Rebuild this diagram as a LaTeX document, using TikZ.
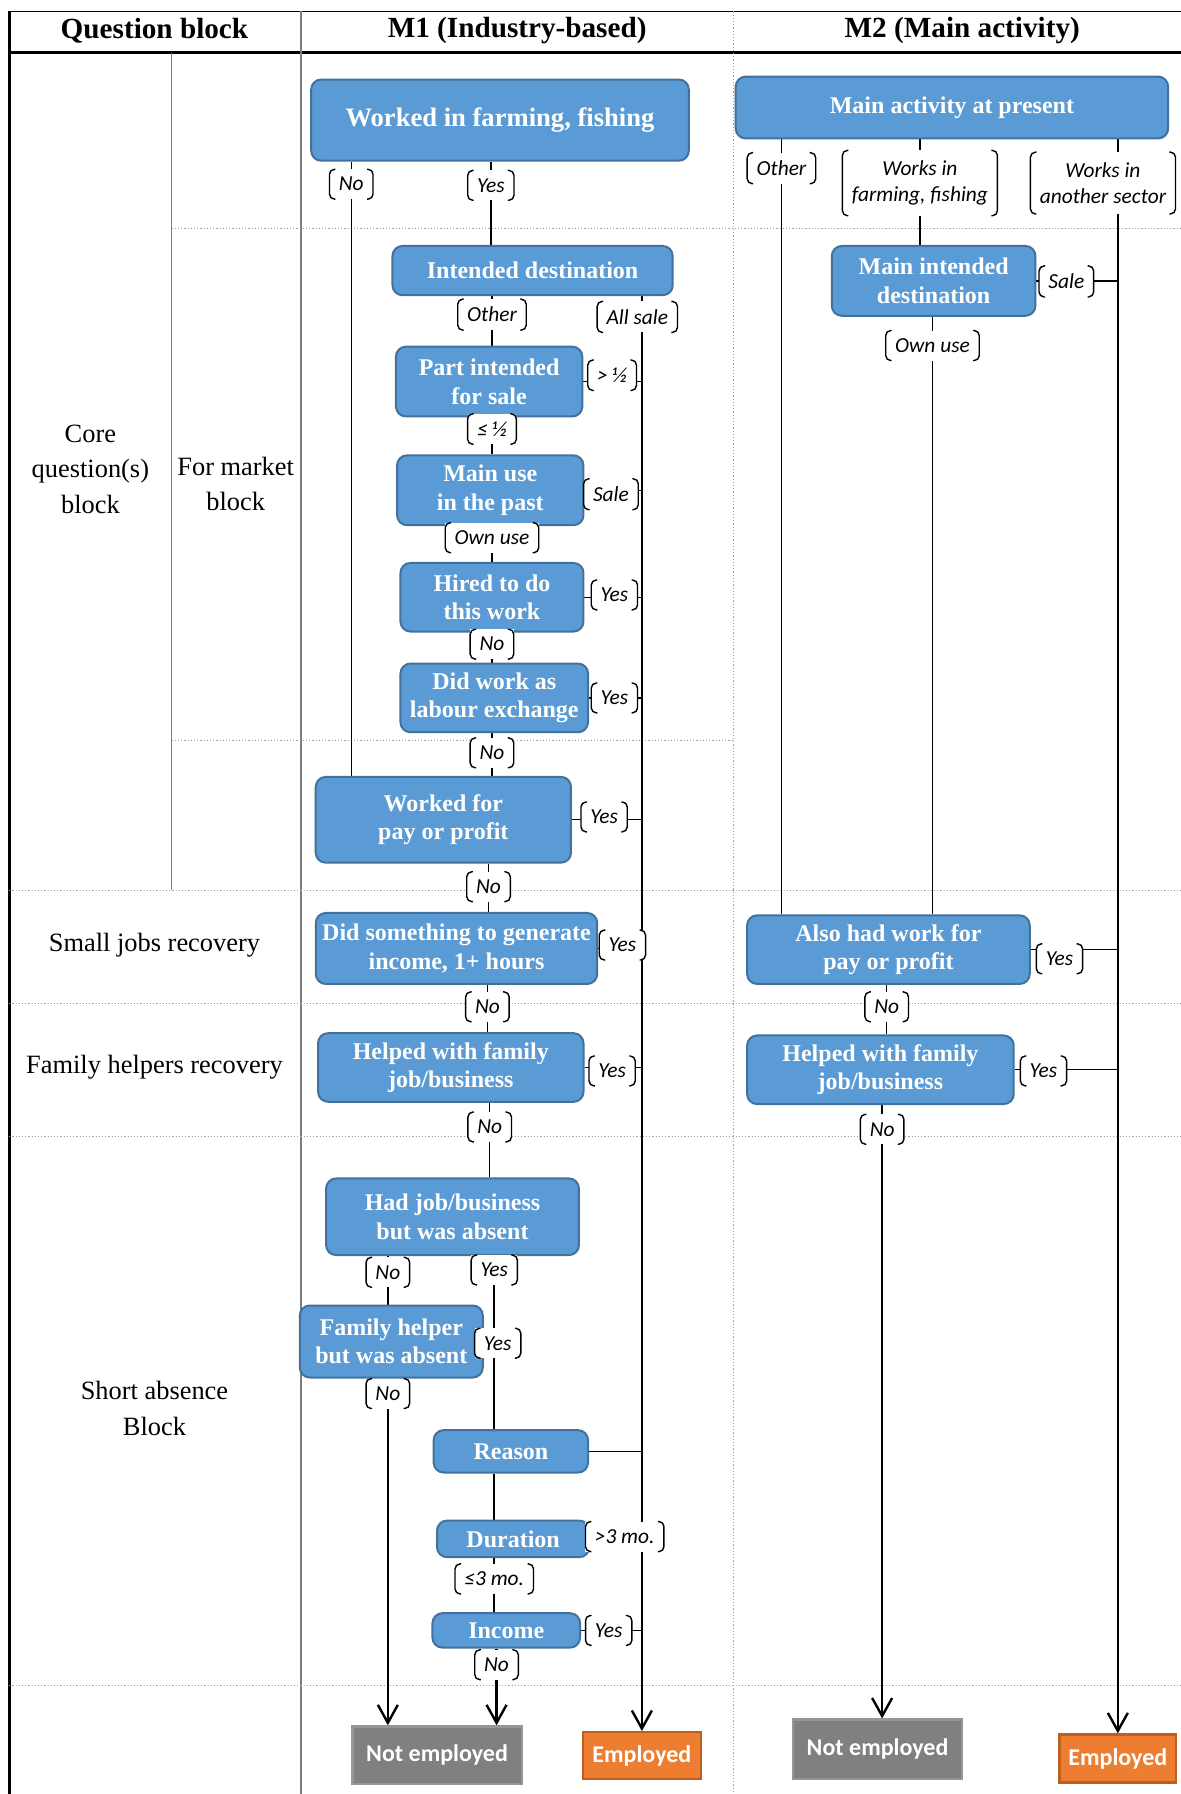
\documentclass[tikz,border=0pt]{standalone}
\usepackage{fontspec}
\setmainfont{Liberation Serif}
\newfontfamily\calfont{Carlito}
\usetikzlibrary{arrows.meta,backgrounds,calc}

\definecolor{boxblue}{RGB}{91,155,213}
\definecolor{boxline}{RGB}{65,113,156}
\definecolor{negray}{RGB}{128,128,128}
\definecolor{negrayline}{RGB}{150,150,150}
\definecolor{emorange}{RGB}{237,125,49}
\definecolor{emorangeline}{RGB}{190,95,30}
\definecolor{gridgray}{RGB}{125,125,125}
\definecolor{dotgray}{RGB}{160,160,160}

\newcommand{\boxfont}{\bfseries\fontsize{12}{14.3}\selectfont}
\newcommand{\bigboxfont}{\bfseries\fontsize{13.3}{16}\selectfont}
\newcommand{\lblfont}{\calfont\itshape\fontsize{10.7}{13}\selectfont}
\newcommand{\outfont}{\calfont\bfseries\fontsize{12}{14}\selectfont}
\newcommand{\headfont}{\bfseries\fontsize{14.6}{17}\selectfont}
\newcommand{\blockfont}{\fontsize{13.2}{17.7}\selectfont}

\tikzset{
  qbox/.style={rectangle, rounded corners=5pt, draw=boxline, line width=1pt,
    fill=boxblue, text=white, font=\boxfont, align=center, inner sep=1pt},
  lbl/.style={inner xsep=4.5pt, inner ysep=3.8pt, font=\lblfont, align=center,
    append after command={\pgfextra{
      \fill[white] (\tikzlastnode.north west) rectangle (\tikzlastnode.south east);
      \draw[line width=0.7pt, rounded corners=2.5pt]
        ([xshift=3pt]\tikzlastnode.north west) -| (\tikzlastnode.south west)
          -- ([xshift=3pt]\tikzlastnode.south west)
        ([xshift=-3pt]\tikzlastnode.north east) -| (\tikzlastnode.south east)
          -- ([xshift=-3pt]\tikzlastnode.south east);
    }}},
  nebox/.style={rectangle, fill=negray, draw=negrayline, line width=1.2pt,
    text=white, font=\outfont, inner sep=1pt},
  embox/.style={rectangle, fill=emorange, draw=emorangeline, line width=1.2pt,
    text=white, font=\outfont, inner sep=1pt},
  blocktext/.style={font=\blockfont, align=center},
  conn/.style={line width=0.7pt},
  trunk/.style={line width=1.2pt},
  arr/.style={line width=1.2pt, -{Straight Barb[length=9pt,width=10pt]}},
  griddot/.style={dotgray, line width=0.6pt, densely dotted},
}

\begin{document}
\begin{tikzpicture}[x=0.572pt, y=-0.572pt]
  \useasboundingbox (0,0) rectangle (1032,1568);

  % headers and block names
  \node[font=\headfont] (hQ) at (135,27) {Question block};
  \node[font=\headfont] (hM1) at (452,27) {M1 (Industry-based)};
  \node[font=\headfont] (hM2) at (841,27) {M2 (Main activity)};
  \node[blocktext] (tCore) at (79,410) {Core\\question(s)\\block};
  \node[blocktext] (tMarket) at (206,423) {For market\\block};
  \node[blocktext] (tSmall) at (135,826) {Small jobs recovery};
  \node[blocktext] (tFam) at (135,933) {Family helpers recovery};
  \node[blocktext] (tShort) at (135,1231) {Short absence\\Block};

  % M1 questions
  \node[qbox, font=\bigboxfont, minimum width=188.8pt, minimum height=40.6pt] (farm) at (437,105) {Worked in farming, fishing};
  \node[qbox, minimum width=140.1pt, minimum height=24.6pt] (dest) at (465.5,236.5) {Intended destination};
  \node[qbox, minimum width=93.2pt, minimum height=34.9pt] (part) at (427.5,333.5) {Part intended\\for sale};
  \node[qbox, minimum width=93.2pt, minimum height=34.9pt] (pastuse) at (428.5,428.5) {Main use\\in the past};
  \node[qbox, minimum width=91.5pt, minimum height=34.3pt] (hired) at (430,522) {Hired to do\\this work};
  \node[qbox, minimum width=93.8pt, minimum height=34.3pt] (exch) at (432,610) {Did work as\\labour exchange};
  \node[qbox, minimum width=127.6pt, minimum height=42.9pt] (paid) at (387.5,716.5) {Worked for\\pay or profit};
  \node[qbox, minimum width=140.7pt, minimum height=35.5pt] (small) at (399,829) {Did something to generate\\income, 1+ hours};
  \node[qbox, minimum width=132.7pt, minimum height=34.3pt] (fam1) at (394,933) {Helped with family\\job/business};
  \node[qbox, minimum width=126.4pt, minimum height=38.3pt] (absent) at (395.5,1063.5) {Had job/business\\but was absent};
  \node[qbox, minimum width=91.5pt, minimum height=36pt] (famabs) at (342,1172.5) {Family helper\\but was absent};
  \node[qbox, minimum width=77.2pt, minimum height=21.2pt] (reason) at (446.5,1268.5) {Reason};
  \node[qbox, minimum width=76.1pt, minimum height=18.3pt] (dur) at (448.5,1345) {Duration};
  \node[qbox, minimum width=73.8pt, minimum height=17.2pt] (income) at (442.5,1425) {Income};
  \node[nebox, minimum width=84.7pt, minimum height=28.6pt] (ne1) at (382,1534) {Not employed};
  \node[embox, minimum width=58.9pt, minimum height=23.5pt] (em1) at (561,1534.5) {Employed};

  % M2 questions
  \node[qbox, minimum width=216.2pt, minimum height=30.9pt] (mainact) at (832,94) {Main activity at present};
  \node[qbox, minimum width=101.8pt, minimum height=34.9pt] (maindest) at (816,245.5) {Main intended\\destination};
  \node[qbox, minimum width=141.3pt, minimum height=34.3pt] (alsowork) at (776.5,830) {Also had work for\\pay or profit};
  \node[qbox, minimum width=133.3pt, minimum height=34.3pt] (fam2) at (769.5,935) {Helped with family\\job/business};
  \node[nebox, minimum width=84.7pt, minimum height=29.7pt] (ne2) at (767,1529) {Not employed};
  \node[embox, minimum width=58.3pt, minimum height=24pt] (em2) at (977,1537) {Employed};

  % answer labels M1
  \node[lbl] (lFarmNo) at (307,161) {No};
  \node[lbl] (lFarmYes) at (429,162) {Yes};
  \node[lbl] (lDestOther) at (430,275) {Other};
  \node[lbl] (lDestAll) at (557,277) {All sale};
  \node[lbl] (lPartMore) at (535,328) {> ½};
  \node[lbl] (lPartLess) at (430,375) {≤ ½};
  \node[lbl] (lPastSale) at (534,432) {Sale};
  \node[lbl] (lPastOwn) at (430,470) {Own use};
  \node[lbl] (lHiredYes) at (537,520) {Yes};
  \node[lbl] (lHiredNo) at (430,563) {No};
  \node[lbl] (lExchYes) at (537,610) {Yes};
  \node[lbl] (lExchNo) at (430,658) {No};
  \node[lbl] (lPaidYes) at (528,714) {Yes};
  \node[lbl] (lPaidNo) at (427,775) {No};
  \node[lbl] (lSmallYes) at (544,826) {Yes};
  \node[lbl] (lSmallNo) at (426,880) {No};
  \node[lbl] (lFamYes) at (535,936) {Yes};
  \node[lbl] (lFamNo) at (428,985) {No};
  \node[lbl] (lAbsNo) at (339,1112) {No};
  \node[lbl] (lAbsYes) at (432,1110) {Yes};
  \node[lbl] (lFamAbsYes) at (435,1174) {Yes};
  \node[lbl] (lFamAbsNo) at (339,1218) {No};
  \node[lbl] (lDurMore) at (546,1343) {>3 mo.};
  \node[lbl] (lDurLess) at (432,1380) {≤3 mo.};
  \node[lbl] (lIncYes) at (532,1425) {Yes};
  \node[lbl] (lIncNo) at (434,1455) {No};

  % answer labels M2
  \node[lbl] (lActOther) at (683,147) {Other};
  \node[lbl, inner ysep=5pt] (lActFarm) at (804,160) {Works in\\farming, fishing};
  \node[lbl, inner ysep=5pt] (lActSector) at (964,160) {Works in\\another sector};
  \node[lbl] (lMdSale) at (932,246) {Sale};
  \node[lbl] (lMdOwn) at (815,302) {Own use};
  \node[lbl] (lAlsoYes) at (926,838) {Yes};
  \node[lbl] (lAlsoNo) at (775,880) {No};
  \node[lbl] (lFam2Yes) at (912,936) {Yes};
  \node[lbl] (lFam2No) at (771,987) {No};

  \begin{scope}[on background layer]
    % table
    \draw[line width=0.8pt] (8,10) -- (1032,10);
    \draw[line width=1.4pt] (8,10) -- (8,1568);
    \draw[line width=1.2pt] (8,46) -- (1032,46);
    \draw[gridgray, line width=0.7pt] (263,10) -- (263,1568);
    \draw[gridgray, line width=0.7pt] (150,46) -- (150,778);
    \draw[griddot] (641,10) -- (641,1568);
    \draw[griddot] (150,200) -- (1032,200);
    \draw[griddot] (150,647) -- (641,647);
    \foreach \y in {778,877,993,1473}
      \draw[griddot] (8,\y) -- (1032,\y);

    % M1 connectors
    \draw[conn] (farm.south -| lFarmNo) -- (paid.north -| lFarmNo);
    \draw[conn] (farm.south -| lFarmYes) -- (dest.north -| lFarmYes);
    \draw[conn] (dest.south -| lDestOther) -- (part.north -| lDestOther);
    \draw[arr] (dest.south -| em1.north) -- (em1.north);
    \foreach \b in {part,pastuse,hired,exch,paid,small,fam1,reason,dur,income}
      \draw[conn] (\b.east) -- (\b.east -| em1.north);
    \draw[conn] (part.south -| lPartLess) -- (pastuse.north -| lPartLess);
    \draw[conn] (pastuse.south -| lPastOwn) -- (hired.north -| lPastOwn);
    \draw[conn] (hired.south -| lHiredNo) -- (exch.north -| lHiredNo);
    \draw[conn] (exch.south -| lExchNo) -- (paid.north -| lExchNo);
    \draw[conn] (paid.south -| lPaidNo) -- (small.north -| lPaidNo);
    \draw[conn] (small.south -| lSmallNo) -- (fam1.north -| lSmallNo);
    \draw[conn] (fam1.south -| lFamNo) -- (absent.north -| lFamNo);
    \draw[conn] (absent.south -| lAbsNo) -- (famabs.north -| lAbsNo);
    \draw[trunk] (absent.south -| lAbsYes) -- (reason.north -| lAbsYes);
    \draw[conn] (famabs.east) -- (famabs.east -| lAbsYes);
    \draw[arr] (famabs.south -| lFamAbsNo) -- (ne1.north -| lFamAbsNo);
    \draw[trunk] (reason.south -| lAbsYes) -- (dur.north -| lAbsYes);
    \draw[trunk] (dur.south -| lDurLess) -- (income.north -| lDurLess);
    \draw[arr] (income.south -| lIncNo) -- (ne1.north -| lIncNo);

    % M2 connectors
    \draw[conn] (mainact.south -| lActOther) -- (alsowork.north -| lActOther);
    \draw[conn] (mainact.south -| lActFarm) -- (maindest.north -| lActFarm);
    \draw[arr] (mainact.south -| em2.north) -- (em2.north);
    \foreach \b in {maindest,alsowork,fam2}
      \draw[conn] (\b.east) -- (\b.east -| em2.north);
    \draw[conn] (maindest.south -| lMdOwn) -- (alsowork.north -| lMdOwn);
    \draw[conn] (alsowork.south -| lAlsoNo) -- (fam2.north -| lAlsoNo);
    \draw[arr] (fam2.south -| lFam2No) -- (ne2.north -| lFam2No);
  \end{scope}
\end{tikzpicture}
\end{document}
